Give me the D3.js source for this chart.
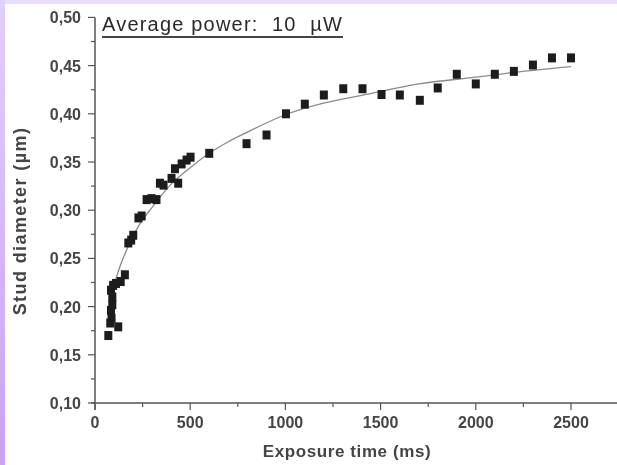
<!DOCTYPE html>
<html><head><meta charset="utf-8">
<script src="https://cdn.jsdelivr.net/npm/d3@7"></script>
<style>
html,body{margin:0;padding:0;background:#fff;}
svg{display:block;}
</style></head>
<body>
<svg id="chart" width="617" height="465"></svg>
<script>
// measured data
const timeMs = [70,80,87,84,91,91,84,95,110,122,135,157,175,190,201,228,245,271,297,323,341,360,402,420,437,455,481,502,600,796,901,1003,1102,1202,1304,1405,1505,1601,1706,1800,1900,2000,2100,2200,2300,2400,2500];
const diameter = [0.170,0.183,0.188,0.196,0.202,0.210,0.217,0.222,0.224,0.179,0.226,0.233,0.266,0.269,0.274,0.292,0.294,0.311,0.312,0.311,0.328,0.326,0.333,0.343,0.328,0.348,0.352,0.355,0.359,0.369,0.378,0.400,0.410,0.4195,0.426,0.426,0.420,0.4195,0.414,0.4268,0.441,0.431,0.441,0.444,0.4506,0.458,0.458];
// fitted curve
const fitT = [75,100,130,180,230,300,400,500,600,700,800,1000,1200,1400,1700,2000,2200,2500];
const fitV = [0.200,0.222,0.241,0.265,0.284,0.303,0.327,0.344,0.359,0.371,0.381,0.399,0.411,0.419,0.431,0.438,0.443,0.449];
const xTicks = [0,500,1000,1500,2000,2500];
const yTicks = [0.10,0.15,0.20,0.25,0.30,0.35,0.40,0.45,0.50];
const xTitle = "Exposure time (ms)";
const yTitle = "Stud diameter (\u00b5m)";
const note = "Average power:  10  \u00b5W";

const FONT = "Liberation Sans, Arial, sans-serif";
const svg = d3.select("#chart");
const defs = svg.append("defs");
const g1 = defs.append("linearGradient").attr("id","lg").attr("x1",0).attr("y1",0).attr("x2",0).attr("y2",1);
g1.append("stop").attr("offset","0%").attr("stop-color","#e0d0f8");
g1.append("stop").attr("offset","100%").attr("stop-color","#c9a2f4");
defs.append("filter").attr("id","soft").attr("x","-5%").attr("y","-5%").attr("width","110%").attr("height","110%")
  .append("feGaussianBlur").attr("stdDeviation",0.5);

svg.append("rect").attr("x",0).attr("y",0).attr("width",617).attr("height",4).attr("fill","#e8def9");
svg.append("rect").attr("x",0).attr("y",0).attr("width",5).attr("height",465).attr("fill","url(#lg)");

const root = svg.append("g").attr("filter","url(#soft)");

const x = d3.scaleLinear().domain([0,2500]).range([95,571]);
const y = d3.scaleLinear().domain([0.10,0.50]).range([403,17.4]);

const axisColor = "#555";
const labelColor = "#444";
// x axis
const xAxis = root.append("g").attr("transform","translate(0,403)");
xAxis.append("line").attr("x1",x(0)-4).attr("x2",617).attr("y1",0).attr("y2",0).attr("stroke",axisColor).attr("stroke-width",1.5);
const xMinor = d3.range(250,2800,500);
xAxis.selectAll(".xmaj").data(xTicks).enter().append("line")
  .attr("x1",d=>x(d)).attr("x2",d=>x(d)).attr("y1",0).attr("y2",7).attr("stroke",axisColor).attr("stroke-width",1.2);
xAxis.selectAll(".xmin").data(xMinor).enter().append("line")
  .attr("x1",d=>x(d)).attr("x2",d=>x(d)).attr("y1",0).attr("y2",4).attr("stroke",axisColor).attr("stroke-width",1.2);
xAxis.selectAll(".xl").data(xTicks).enter().append("text")
  .attr("x",d=>x(d)).attr("y",25).attr("text-anchor","middle")
  .attr("font-family",FONT).attr("font-size",16).attr("font-weight","bold").attr("fill",labelColor)
  .text(d=>d3.format("d")(d));
root.append("text").attr("x",347).attr("y",457).attr("text-anchor","middle")
  .attr("font-family",FONT).attr("font-size",17).attr("font-weight","bold").attr("fill",labelColor)
  .attr("letter-spacing",0.6)
  .text(xTitle);

// y axis
const yAxis = root.append("g").attr("transform","translate("+x(0)+",0)");
yAxis.append("line").attr("x1",0).attr("x2",0).attr("y1",y(0.5)).attr("y2",y(0.1)+7).attr("stroke",axisColor).attr("stroke-width",1.5);
const yMinor = d3.range(0.125,0.5,0.05);
yAxis.selectAll(".ymaj").data(yTicks).enter().append("line")
  .attr("x1",-7).attr("x2",0).attr("y1",d=>y(d)).attr("y2",d=>y(d)).attr("stroke",axisColor).attr("stroke-width",1.2);
yAxis.selectAll(".ymin").data(yMinor).enter().append("line")
  .attr("x1",-4).attr("x2",0).attr("y1",d=>y(d)).attr("y2",d=>y(d)).attr("stroke",axisColor).attr("stroke-width",1.2);
yAxis.selectAll(".yl").data(yTicks).enter().append("text")
  .attr("x",-14).attr("y",d=>y(d)+6).attr("text-anchor","end")
  .attr("font-family",FONT).attr("font-size",16).attr("font-weight","bold").attr("fill",labelColor)
  .text(d=>d3.format(".2f")(d).replace(".",","));
root.append("text").attr("transform","translate(26,221) rotate(-90)").attr("text-anchor","middle")
  .attr("font-family",FONT).attr("font-size",18).attr("font-weight","bold").attr("fill",labelColor)
  .attr("letter-spacing",1.4)
  .text(yTitle);

// fit curve
const fitData = fitT.map((t,i)=>[t,fitV[i]]);
root.append("path").datum(fitData)
  .attr("d",d3.line().x(d=>x(d[0])).y(d=>y(d[1])).curve(d3.curveMonotoneX))
  .attr("fill","none").attr("stroke","#8a8a8a").attr("stroke-width",1.3);

// points
const pts = timeMs.map((t,i)=>[t,diameter[i]]);
root.selectAll(".pt").data(pts).enter().append("rect")
  .attr("x",d=>x(d[0])-4).attr("y",d=>y(d[1])-4.5).attr("width",8).attr("height",9).attr("fill","#1e1e1e");

// annotation
const ann = root.append("text").attr("x",102).attr("y",31)
  .attr("font-family",FONT).attr("font-size",20).attr("fill","#2a2a2a")
  .attr("letter-spacing",1.2)
  .attr("xml:space","preserve").text(note);
const bb = ann.node().getBBox();
root.append("line").attr("x1",102).attr("x2",bb.x+bb.width).attr("y1",37).attr("y2",37).attr("stroke","#444").attr("stroke-width",2);
</script>
</body></html>
